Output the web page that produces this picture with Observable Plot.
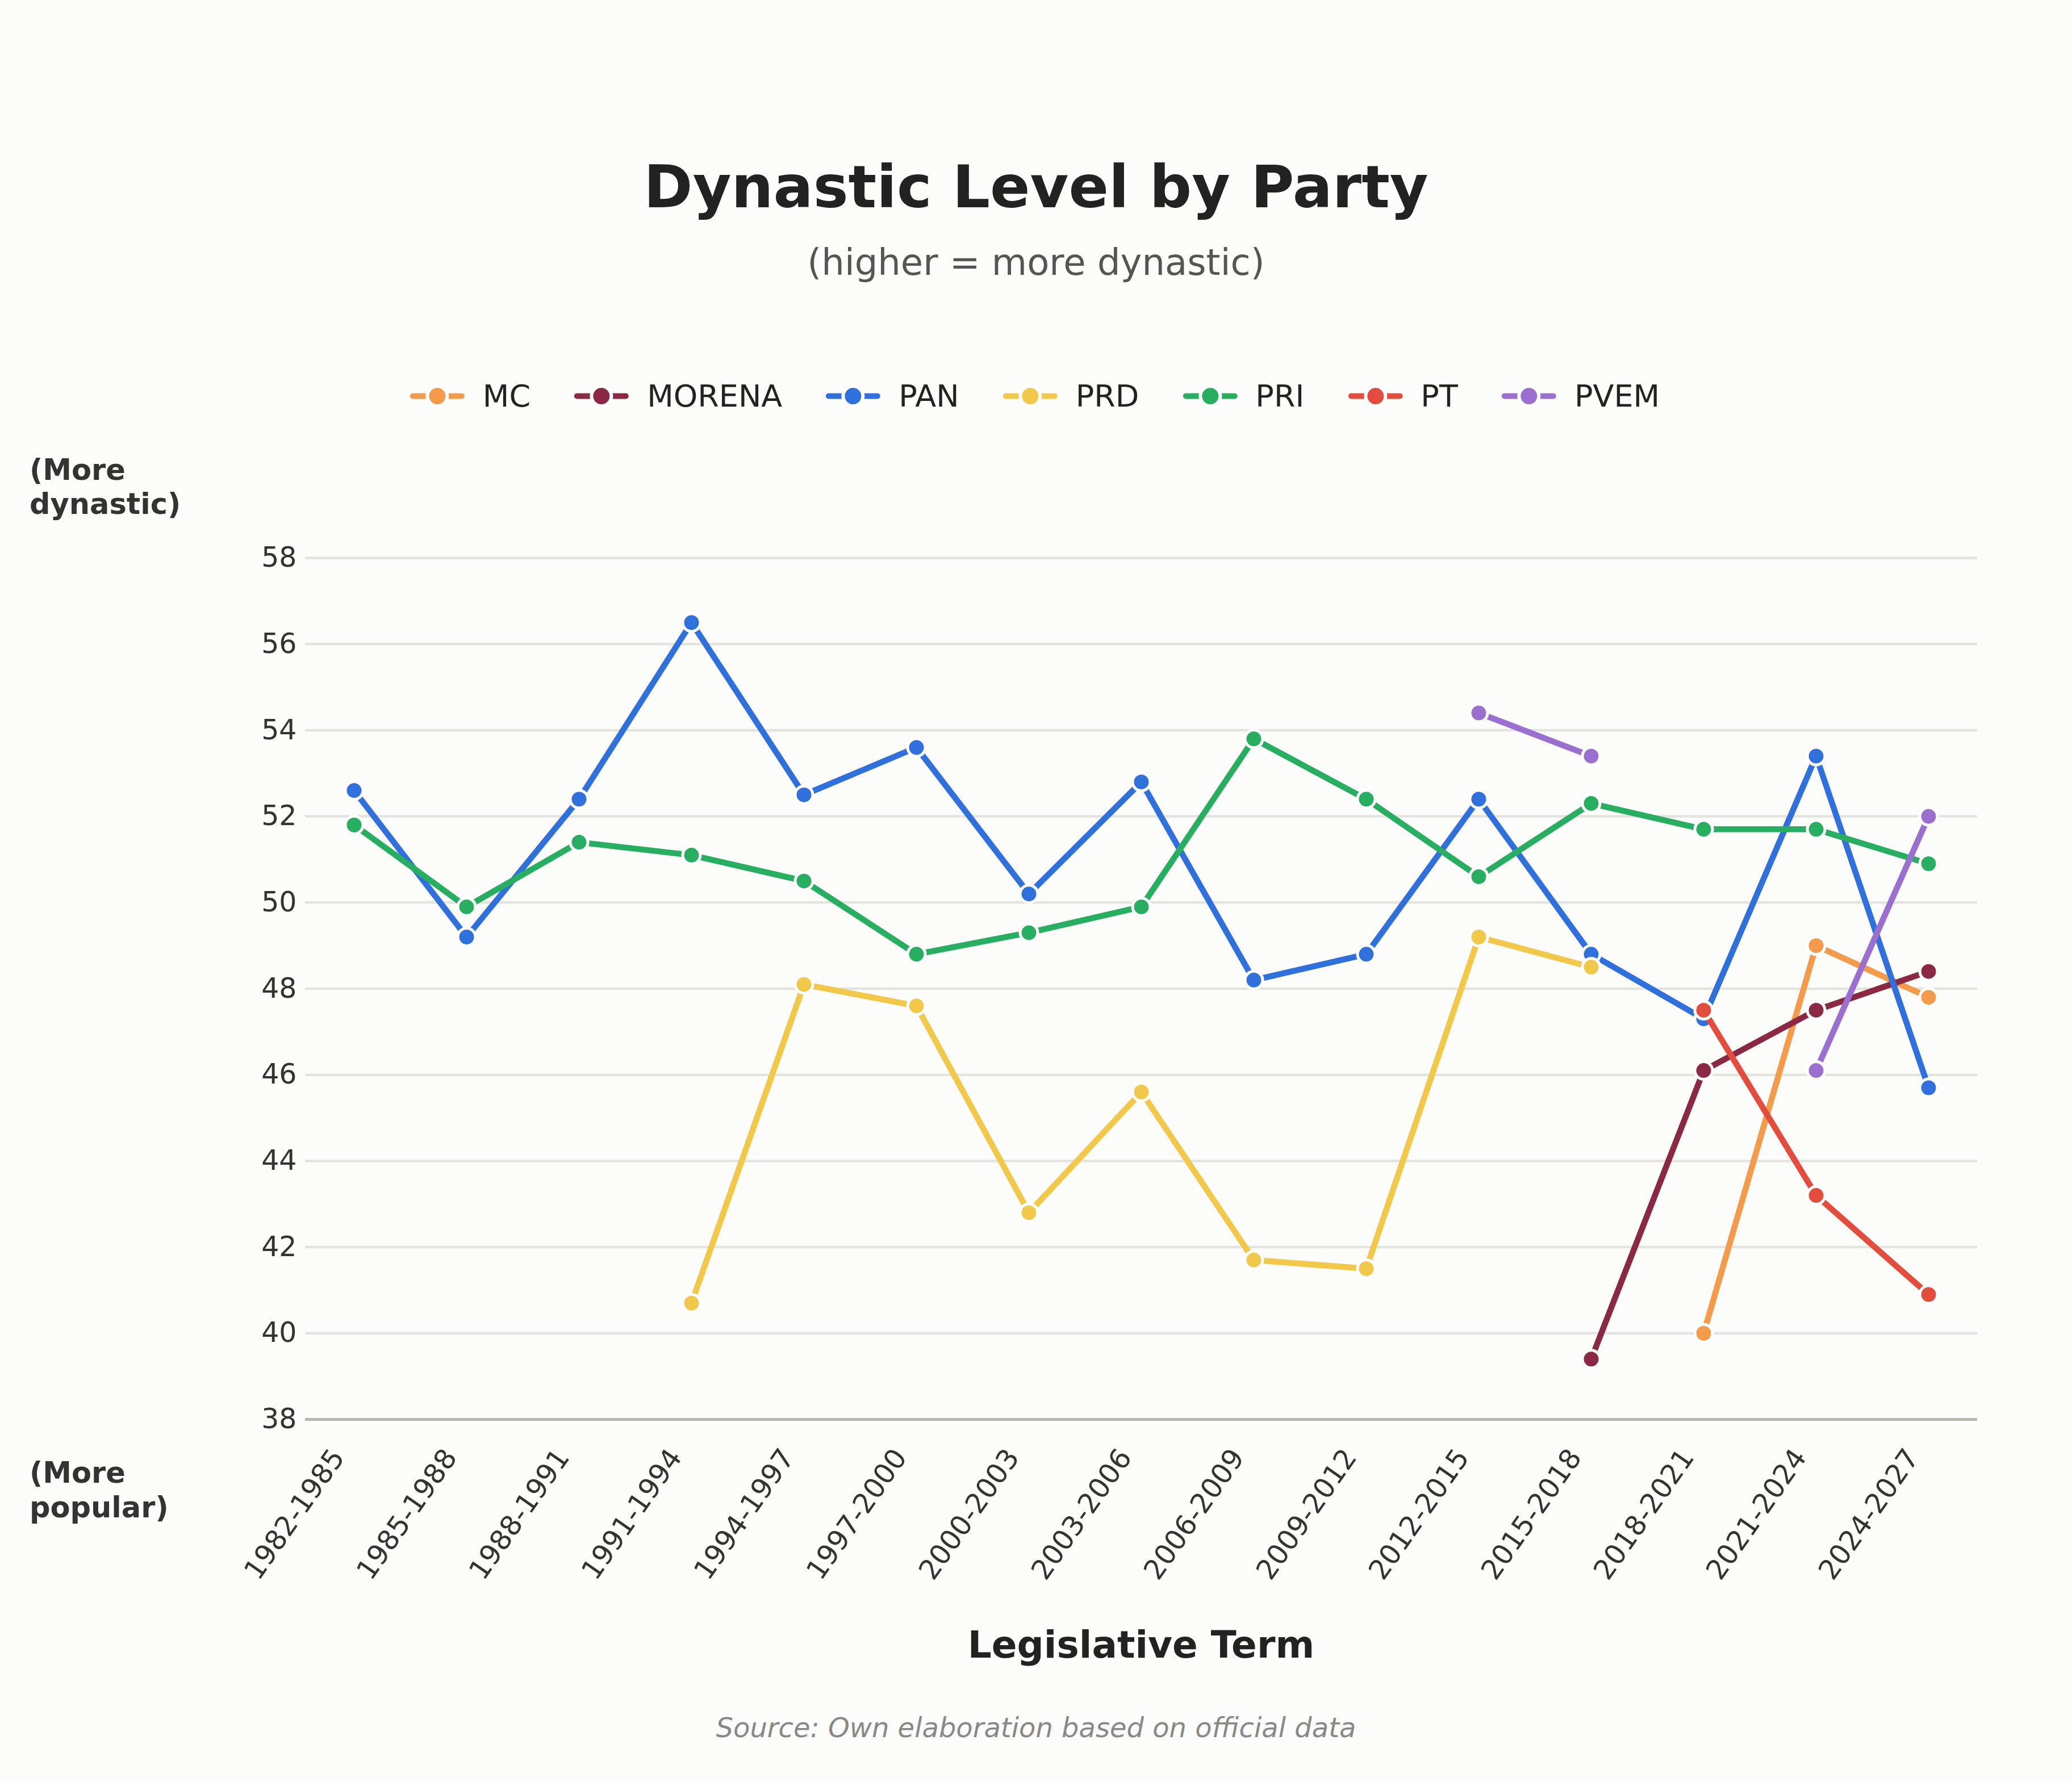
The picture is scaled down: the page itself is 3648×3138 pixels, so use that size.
<!DOCTYPE html>
<html>
<head>
<meta charset="utf-8">
<script src="https://cdn.jsdelivr.net/npm/d3@7"></script>
<script src="https://cdn.jsdelivr.net/npm/@observablehq/plot@0.6"></script>
<style>
  html, body { margin: 0; padding: 0; background: #fcfcfa; }
  #page { position: relative; width: 3648px; height: 3138px; background: #fcfcfa; overflow: hidden; font-family: "DejaVu Sans", sans-serif; }
  .t { position: absolute; white-space: nowrap; line-height: 1.164; }
  #legend { position: absolute; left: 1822px; top: 698px; transform: translate(-50%, -50%); display: flex; align-items: center; gap: 77px; }
  .item { display: flex; align-items: center; }
  .item span { margin-left: 32px; font-size: 54px; color: #222; line-height: 1.164; }
  #chart { position: absolute; left: 0; top: 900px; }
</style>
</head>
<body>
<div id="page">
  <div id="chart"></div>
  <div id="legend"></div>
</div>
<script>
const terms = ["1982-1985","1985-1988","1988-1991","1991-1994","1994-1997","1997-2000","2000-2003","2003-2006","2006-2009","2009-2012","2012-2015","2015-2018","2018-2021","2021-2024","2024-2027"];
const parties = ["MC","MORENA","PAN","PRD","PRI","PT","PVEM"];
const partyColors = ["#f39b4b","#8b2844","#2f70dc","#f2c84b","#27ae60","#e24d3d","#9a6fcf"];
const mc     = [null,null,null,null,null,null,null,null,null,null,null,null,40.0,49.0,47.8];
const morena = [null,null,null,null,null,null,null,null,null,null,null,39.4,46.1,47.5,48.4];
const pan    = [52.6,49.2,52.4,56.5,52.5,53.6,50.2,52.8,48.2,48.8,52.4,48.8,47.3,53.4,45.7];
const prd    = [null,null,null,40.7,48.1,47.6,42.8,45.6,41.7,41.5,49.2,48.5,null,null,null];
const pri    = [51.8,49.9,51.4,51.1,50.5,48.8,49.3,49.9,53.8,52.4,50.6,52.3,51.7,51.7,50.9];
const pt     = [null,null,null,null,null,null,null,null,null,null,null,null,47.5,43.2,40.9];
const pvem   = [null,null,null,null,null,null,null,null,null,null,54.4,53.4,null,46.1,52.0];
const yTicks = [38,40,42,44,46,48,50,52,54,56,58];

const series = [mc, morena, pan, prd, pri, pt, pvem];

const page = document.getElementById("page");
function addText(str, {x, baseline, fs, weight = "normal", style = "normal", color = "#222", align = "center"}) {
  const d = document.createElement("div");
  d.className = "t";
  d.textContent = str;
  d.style.fontSize = fs + "px";
  d.style.fontWeight = weight;
  d.style.fontStyle = style;
  d.style.color = color;
  d.style.top = (baseline - 0.928 * fs) + "px";
  d.style.left = x + "px";
  if (align === "center") d.style.transform = "translateX(-50%)";
  page.appendChild(d);
}

addText("Dynastic Level by Party", {x: 1824, baseline: 366, fs: 104, weight: "bold", color: "#222"});
addText("(higher = more dynastic)", {x: 1824, baseline: 484, fs: 64, color: "#555"});
addText("(More", {x: 52, baseline: 845, fs: 51, weight: "bold", color: "#333", align: "left"});
addText("dynastic)", {x: 52, baseline: 905, fs: 51, weight: "bold", color: "#333", align: "left"});
addText("(More", {x: 52, baseline: 2611, fs: 51, weight: "bold", color: "#333", align: "left"});
addText("popular)", {x: 52, baseline: 2672, fs: 51, weight: "bold", color: "#333", align: "left"});
addText("Legislative Term", {x: 2009, baseline: 2920, fs: 66, weight: "bold", color: "#222"});
addText("Source: Own elaboration based on official data", {x: 1824, baseline: 3060, fs: 48, style: "italic", color: "#888"});

// legend
const legend = document.getElementById("legend");
parties.forEach((p, i) => {
  const item = document.createElement("div");
  item.className = "item";
  const c = partyColors[i];
  item.innerHTML = `<svg width="96" height="46" viewBox="0 0 96 46"><line x1="5" y1="23" x2="91" y2="23" stroke="${c}" stroke-width="10" stroke-linecap="round"/><circle cx="48" cy="23" r="17.5" fill="${c}" stroke="#ffffff" stroke-width="6"/></svg><span>${p}</span>`;
  legend.appendChild(item);
});

const colorOf = Object.fromEntries(parties.map((p, i) => [p, partyColors[i]]));
const seriesMarks = [];
parties.forEach((p, i) => {
  const rows = terms.map((t, j) => ({term: t, party: p, value: series[i][j]}));
  seriesMarks.push(Plot.line(rows, {x: "term", y: "value", stroke: colorOf[p], strokeWidth: 10.5, strokeLinejoin: "round", strokeLinecap: "round"}));
  seriesMarks.push(Plot.dot(rows.filter(r => r.value != null), {x: "term", y: "value", r: 15.5, fill: colorOf[p], stroke: "#ffffff", strokeWidth: 5}));
});

const chart = Plot.plot({
  width: 3648,
  height: 1800,
  marginTop: 82,
  marginRight: 167,
  marginBottom: 201,
  marginLeft: 537,
  style: {background: "transparent", fontFamily: "DejaVu Sans", fontSize: "49px", color: "#333", overflow: "visible"},
  x: {type: "point", domain: terms, padding: 0.408, axis: null},
  y: {domain: [38, 58], axis: null},
  marks: [
    Plot.gridY(yTicks.filter(v => v > 38), {stroke: "#e4e3de", strokeOpacity: 1, strokeWidth: 4.5}),
    Plot.ruleY([38], {stroke: "#b9b6ab", strokeWidth: 5}),
    Plot.axisY(yTicks, {tickSize: 0, tickPadding: 15, fontSize: 49, fill: "#333", label: null, tickFormat: d => String(d)}),
    Plot.text(terms, {x: d => d, frameAnchor: "bottom", rotate: -55, textAnchor: "end", lineAnchor: "middle", dx: -28, dy: 58, fontSize: 49, fill: "#333"}),
    ...seriesMarks
  ]
});
document.getElementById("chart").appendChild(chart);
</script>
</body>
</html>
